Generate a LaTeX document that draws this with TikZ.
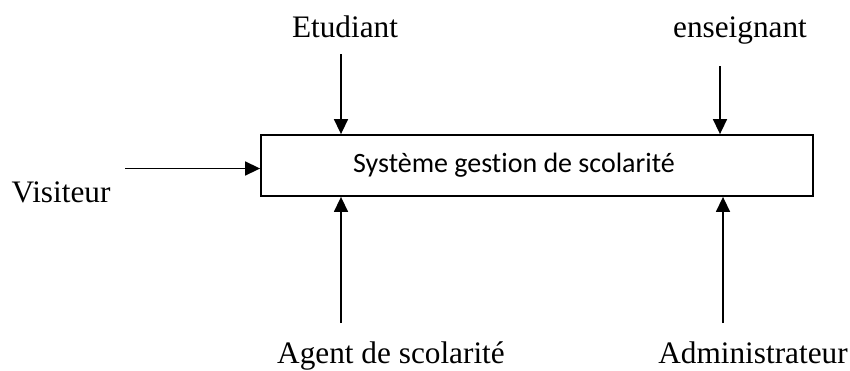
\documentclass[tikz,border=0pt]{standalone}
\usepackage{fontspec}
\setmainfont{Liberation Serif}
\newfontfamily\boxfont[Ligatures=NoCommon]{Carlito}
\usetikzlibrary{arrows.meta}
\begin{document}
\begin{tikzpicture}[x=1bp,y=-1bp,
  actor/.style={font=\fontsize{31.4}{36}\selectfont, anchor=base, inner sep=0pt},
  sysbox/.style={draw, line width=1.8bp, minimum width=552bp, minimum height=61bp, inner sep=0pt},
  flow/.style={line width=1.5bp, -{Triangle[length=15bp,width=14bp]}}]
\useasboundingbox (0,0) rectangle (850,370);

% central system box
\node[sysbox] (box) at (537,165.5) {};
\node[font=\boxfont\fontsize{28.1}{32}\selectfont, inner sep=0pt] (title) at (514,165.5) {Système gestion de scolarité};

% actor labels
\node[actor] (etu) at (345,37) {Etudiant};
\node[actor] (ens) at (740,37) {enseignant};
\node[actor] (vis) at (61,202) {Visiteur};
\node[actor] (agt) at (391,363) {Agent de scolarité};
\node[actor] (adm) at (753,363) {Administrateur};

% free ends of the flows
\coordinate (etuS) at (341,54);
\coordinate (ensS) at (720,66);
\coordinate (visS) at (125,168.5);
\coordinate (agtS) at (341,323);
\coordinate (admS) at (723,323);

% flows into the system
\draw[flow] (etuS) -- (etuS |- box.north);
\draw[flow] (ensS) -- (ensS |- box.north);
\draw[flow] (visS) -- (visS -| box.west);
\draw[flow] (agtS) -- (agtS |- box.south);
\draw[flow] (admS) -- (admS |- box.south);
\end{tikzpicture}
\end{document}
